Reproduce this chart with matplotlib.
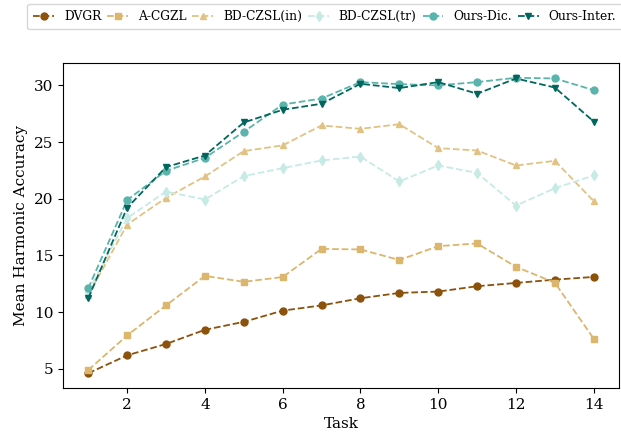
import matplotlib

matplotlib.use("Agg")
from matplotlib import pyplot as plt

tasks = list(range(1, 15))
dvgr = [4.62, 6.2, 7.2, 8.45, 9.15, 10.14, 10.6, 11.23, 11.7, 11.82, 12.29, 12.58, 12.87, 13.11]
a_cgzl = [4.9, 7.95, 10.6, 13.2, 12.68, 13.1, 15.58, 15.53, 14.6, 15.82, 16.06, 14.0, 12.6, 7.66]
bd_czsl_in = [11.5, 17.72, 20.08, 21.96, 24.2, 24.7, 26.46, 26.16, 26.57, 24.46, 24.25, 22.93, 23.34, 19.79]
bd_czsl_tr = [11.8, 18.29, 20.63, 19.93, 21.99, 22.7, 23.37, 23.72, 21.52, 22.93, 22.28, 19.4, 20.93, 22.05]
ours_dic = [12.1, 19.88, 22.46, 23.6, 25.9, 28.3, 28.83, 30.28, 30.1, 29.99, 30.28, 30.66, 30.6, 29.57]
ours_inter = [11.23, 19.2, 22.79, 23.81, 26.72, 27.84, 28.37, 30.13, 29.75, 30.28, 29.25, 30.6, 29.8, 26.8]

series = [
    ("DVGR", dvgr, "#8c510a", "o"),
    ("A-CGZL", a_cgzl, "#dbb66c", "s"),
    ("BD-CZSL(in)", bd_czsl_in, "#e2c283", "^"),
    ("BD-CZSL(tr)", bd_czsl_tr, "#c7eae5", "d"),
    ("Ours-Dic.", ours_dic, "#5ab4ac", "o"),
    ("Ours-Inter.", ours_inter, "#01665e", "v"),
]

plt.rcParams["font.family"] = "DejaVu Serif"

fig = plt.figure(figsize=(6.21, 4.36), dpi=100)
ax = fig.add_axes([0.1014, 0.110, 0.8954, 0.7455])

for label, values, color, marker in series:
    ax.plot(tasks, values, linestyle="--", marker=marker, color=color,
            markersize=5, linewidth=1.3, label=label)

ax.set_xticks([2, 4, 6, 8, 10, 12, 14])
ax.set_yticks([5, 10, 15, 20, 25, 30])
ax.tick_params(labelsize=11)
ax.set_xlabel("Task", fontsize=11)
ax.set_ylabel("Mean Harmonic Accuracy", fontsize=11)

handles, labels = ax.get_legend_handles_labels()
fig.legend(handles, labels, loc="center", bbox_to_anchor=(0.523, 0.962), ncol=6, fontsize=8.8,
           handlelength=1.7, columnspacing=0.5, handletextpad=0.8, borderpad=0.5)

fig.savefig("out.png")
